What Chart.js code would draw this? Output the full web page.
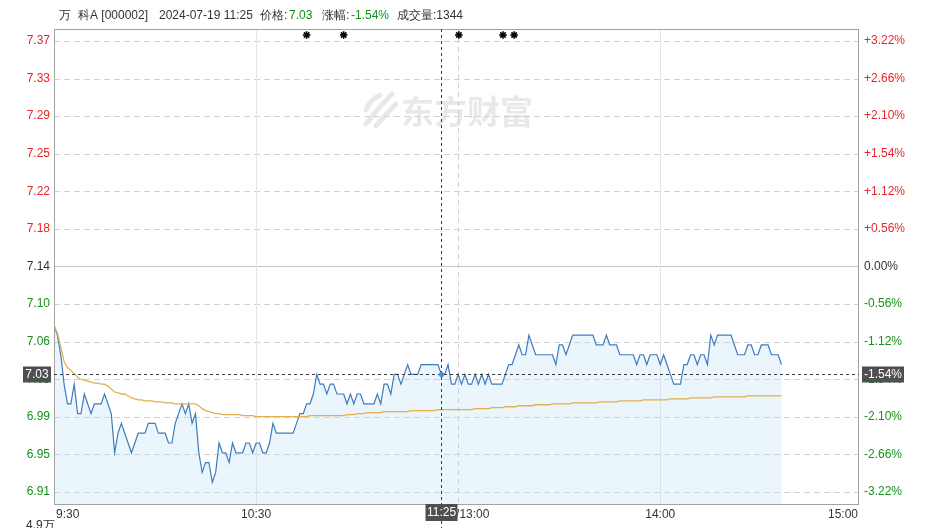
<!DOCTYPE html>
<html><head><meta charset="utf-8">
<script src="https://cdn.jsdelivr.net/npm/chart.js@4.4.1/dist/chart.umd.min.js"></script>
<style>html,body{margin:0;padding:0;background:#fff;overflow:hidden}canvas{display:block}</style>
</head><body>
<canvas id="c" width="936" height="528"></canvas>
<script>
// ---------- data ----------
const prevClose = 7.14;
const yMin = 6.91, yMax = 7.37;
const priceTickLabels = ['7.37','7.33','7.29','7.25','7.22','7.18','7.14','7.10','7.06','7.03','6.99','6.95','6.91'];
const pctTickLabels = ['+3.22%','+2.66%','+2.10%','+1.54%','+1.12%','+0.56%','0.00%','-0.56%','-1.12%','-1.54%','-2.10%','-2.66%','-3.22%'];
const timeTickValues = [0, 60, 120, 180, 239];
const timeTickLabels = ['9:30', '10:30', '11:30/13:00', '14:00', '15:00'];
const prices = [
 7.08,7.07,7.05,7.02,7.00,7.00,7.02,6.99,6.99,7.01,
 7.00,6.99,7.00,7.00,7.00,7.01,7.00,6.99,6.95,6.97,
 6.98,6.97,6.96,6.95,6.96,6.97,6.97,6.97,6.98,6.98,
 6.98,6.97,6.97,6.97,6.96,6.96,6.98,6.99,7.00,6.99,
 7.00,6.98,6.99,6.95,6.93,6.94,6.94,6.92,6.93,6.96,
 6.95,6.95,6.94,6.96,6.95,6.95,6.95,6.96,6.96,6.95,
 6.96,6.96,6.95,6.95,6.96,6.98,6.97,6.97,6.97,6.97,
 6.97,6.97,6.98,6.99,6.99,7.00,7.00,7.01,7.03,7.02,
 7.02,7.01,7.02,7.02,7.01,7.01,7.01,7.00,7.01,7.00,
 7.01,7.01,7.00,7.00,7.00,7.00,7.01,7.00,7.02,7.02,
 7.01,7.03,7.03,7.02,7.03,7.04,7.03,7.03,7.03,7.04,
 7.04,7.04,7.04,7.04,7.04,7.03,7.03,7.04,7.02,7.02,
 7.03,7.02,7.03,7.02,7.02,7.03,7.02,7.03,7.02,7.03,
 7.02,7.02,7.02,7.02,7.03,7.04,7.04,7.05,7.06,7.05,
 7.05,7.07,7.06,7.05,7.05,7.05,7.05,7.05,7.05,7.04,
 7.06,7.06,7.05,7.06,7.07,7.07,7.07,7.07,7.07,7.07,
 7.07,7.06,7.06,7.06,7.07,7.06,7.06,7.06,7.05,7.05,
 7.05,7.05,7.05,7.04,7.05,7.05,7.04,7.05,7.05,7.05,
 7.04,7.05,7.04,7.03,7.02,7.02,7.02,7.04,7.04,7.05,
 7.05,7.04,7.05,7.05,7.04,7.07,7.06,7.07,7.07,7.07,
 7.07,7.07,7.06,7.05,7.05,7.05,7.06,7.06,7.05,7.05,
 7.06,7.06,7.06,7.05,7.05,7.05,7.04
];
const avgPrices = [
 7.080,7.072,7.058,7.043,7.037,7.034,7.031,7.027,7.025,7.024,
 7.023,7.022,7.021,7.021,7.020,7.020,7.018,7.015,7.012,7.011,
 7.010,7.010,7.008,7.006,7.005,7.004,7.004,7.003,7.003,7.003,
 7.002,7.002,7.002,7.001,7.001,7.001,7.000,7.000,7.000,7.000,
 7.000,7.000,7.000,6.998,6.995,6.993,6.992,6.991,6.990,6.990,
 6.989,6.989,6.989,6.989,6.989,6.989,6.988,6.988,6.988,6.988,
 6.987,6.987,6.987,6.987,6.987,6.987,6.987,6.987,6.987,6.987,
 6.987,6.987,6.987,6.987,6.987,6.987,6.988,6.988,6.988,6.988,
 6.988,6.988,6.988,6.988,6.988,6.988,6.988,6.989,6.989,6.989,
 6.990,6.990,6.990,6.991,6.991,6.991,6.991,6.991,6.992,6.992,
 6.992,6.992,6.992,6.992,6.992,6.992,6.993,6.993,6.993,6.993,
 6.993,6.993,6.993,6.993,6.994,6.994,6.994,6.994,6.994,6.994,
 6.994,6.994,6.994,6.994,6.994,6.995,6.995,6.995,6.995,6.995,
 6.996,6.996,6.996,6.996,6.997,6.997,6.997,6.997,6.998,6.998,
 6.998,6.998,6.998,6.999,6.999,6.999,6.999,6.999,7.000,7.000,
 7.000,7.000,7.000,7.000,7.001,7.001,7.001,7.001,7.001,7.001,
 7.001,7.001,7.002,7.002,7.002,7.002,7.002,7.002,7.003,7.003,
 7.003,7.003,7.003,7.003,7.003,7.004,7.004,7.004,7.004,7.004,
 7.004,7.004,7.004,7.005,7.005,7.005,7.005,7.005,7.005,7.006,
 7.006,7.006,7.006,7.006,7.006,7.006,7.007,7.007,7.007,7.007,
 7.007,7.007,7.007,7.007,7.007,7.007,7.008,7.008,7.008,7.008,
 7.008,7.008,7.008,7.008,7.008,7.008,7.008
];
const newsMinutes = [75, 86, 120.2, 133.3, 136.6];
const cursorMinute = 115;
const cursorPrice = 7.03;
const cursorTime = '11:25';
const cursorPct = '-1.54%';
const headerName = '万 科A [000002]';
const headerDate = '2024-07-19 11:25';
const headerPrice = '7.03';
const headerChange = '-1.54%';
const headerVolume = '1344';
const volumeAxisTop = '4.9万';

// ---------- style ----------
const FONT = '"Liberation Sans", Arial, sans-serif';
const RED = '#e3262c', GREEN = '#17901a', GRAY = '#333';
const axisPad = 0.0122;   // empty band above the top tick and below the bottom tick
function tickColor(k) { return k < 6 ? RED : (k === 6 ? GRAY : GREEN); }
const tickValues = priceTickLabels.map((_, k) => yMax - k * (yMax - yMin) / (priceTickLabels.length - 1));

function line(ctx, x1, y1, x2, y2) { ctx.beginPath(); ctx.moveTo(x1, y1); ctx.lineTo(x2, y2); ctx.stroke(); }

const deco = {
  id: 'deco',
  beforeDraw(chart) {
    const { ctx, chartArea: a, scales: { x, y } } = chart;
    ctx.save();
    ctx.fillStyle = '#fff';
    ctx.fillRect(0, 0, chart.width, chart.height);
    // watermark
    ctx.fillStyle = 'rgba(0,0,0,0.09)';
    ctx.strokeStyle = 'rgba(0,0,0,0.09)';
    ctx.font = 'bold 33px "Noto Sans CJK SC", sans-serif';
    ctx.textBaseline = 'middle';
    ctx.textAlign = 'left';
    ctx.fillText('东方财富', 401, 111);
    ctx.lineWidth = 5; ctx.lineCap = 'round';
    ctx.beginPath(); ctx.moveTo(366, 124); ctx.quadraticCurveTo(378, 108, 392, 94); ctx.stroke();
    ctx.beginPath(); ctx.moveTo(376, 126); ctx.quadraticCurveTo(386, 114, 396, 104); ctx.stroke();
    ctx.beginPath(); ctx.moveTo(366, 110); ctx.quadraticCurveTo(370, 100, 380, 95); ctx.stroke();
    // horizontal grid
    ctx.lineWidth = 1; ctx.lineCap = 'butt';
    tickValues.forEach((v, k) => {
      const py = Math.round(y.getPixelForValue(v)) + 0.5;
      if (k === 6) { ctx.setLineDash([]); ctx.strokeStyle = '#c4c4c4'; }
      else { ctx.setLineDash([6, 4]); ctx.strokeStyle = '#d2d2d2'; }
      line(ctx, a.left, py, a.right, py);
    });
    // vertical grid
    timeTickValues.slice(1, -1).forEach(v => {
      const px = Math.round(x.getPixelForValue(v)) + 0.5;
      if (v === 120) { ctx.setLineDash([5, 4]); ctx.strokeStyle = '#cfcfcf'; }
      else { ctx.setLineDash([]); ctx.strokeStyle = '#e6e6e6'; }
      line(ctx, px, a.top, px, a.bottom);
    });
    ctx.restore();
  },
  afterDatasetsDraw(chart) {
    const { ctx, chartArea: a, scales: { x, y } } = chart;
    ctx.save();
    // frame
    ctx.strokeStyle = '#a3a3a3'; ctx.lineWidth = 1; ctx.setLineDash([]);
    ctx.strokeRect(a.left + 0.5, a.top + 0.5, a.right - a.left - 1, a.bottom - a.top);
    // news stars
    ctx.strokeStyle = '#000'; ctx.lineWidth = 1.6;
    newsMinutes.forEach(m => {
      const cx = x.getPixelForValue(m), cy = 35;
      for (let k = 0; k < 4; k++) {
        const ang = k * Math.PI / 4, r = 3.8;
        line(ctx, cx - r * Math.cos(ang), cy - r * Math.sin(ang), cx + r * Math.cos(ang), cy + r * Math.sin(ang));
      }
      ctx.fillStyle = '#000'; ctx.beginPath(); ctx.arc(cx, cy, 1.8, 0, Math.PI * 2); ctx.fill();
    });
    // crosshair
    const cx = Math.round(x.getPixelForValue(cursorMinute)) + 0.5;
    const cy = Math.round(y.getPixelForValue(cursorPrice)) + 0.5;
    ctx.strokeStyle = '#3a3a3a'; ctx.lineWidth = 1; ctx.setLineDash([3, 3]);
    line(ctx, cx, a.top, cx, chart.height);
    line(ctx, a.left, cy, a.right, cy);
    ctx.setLineDash([]);
    ctx.fillStyle = '#4a8fe0';
    ctx.beginPath(); ctx.arc(cx, cy, 2.6, 0, Math.PI * 2); ctx.fill();
    // boxes
    ctx.font = '12px ' + FONT; ctx.textBaseline = 'middle';
    ctx.fillStyle = '#4f4f4f';
    ctx.fillRect(23, cy - 8, 28, 16);
    ctx.fillRect(a.right + 3, cy - 8, 42, 16);
    ctx.fillStyle = '#fff'; ctx.textAlign = 'center';
    ctx.fillText(cursorPrice.toFixed(2), 37, cy);
    ctx.fillText(cursorPct, a.right + 24, cy);
    ctx.restore();
  },
  afterDraw(chart) {
    const { ctx, chartArea: a, scales: { x } } = chart;
    ctx.save();
    // header
    ctx.font = '12px ' + FONT; ctx.textBaseline = 'middle'; ctx.textAlign = 'left';
    ctx.fillStyle = GRAY;
    ctx.fillText('万', 59, 16);
    ctx.fillText(headerName.slice(2), 78, 16);
    ctx.fillText(headerDate, 159, 16);
    ctx.fillText('价格:', 260, 16);
    ctx.fillText('涨幅:', 322, 16);
    ctx.fillText('成交量:' + headerVolume, 397, 16);
    ctx.fillStyle = GREEN;
    ctx.fillText(headerPrice, 289, 16);
    ctx.fillText(headerChange, 351, 16);
    // x labels
    ctx.fillStyle = GRAY;
    const cx = x.getPixelForValue(cursorMinute);
    timeTickValues.forEach((v, k) => {
      const px = x.getPixelForValue(v);
      ctx.textAlign = k === 0 ? 'left' : (k === timeTickValues.length - 1 ? 'right' : 'center');
      ctx.fillText(timeTickLabels[k], k === 0 ? px + 2 : (k === timeTickValues.length - 1 ? px - 1 : px), a.bottom + 11);
    });
    // bottom cursor box on top of x labels
    ctx.fillStyle = '#4f4f4f';
    ctx.fillRect(Math.round(cx) - 15.5, a.bottom, 32, 17);
    ctx.fillStyle = '#fff'; ctx.textAlign = 'center';
    ctx.fillText(cursorTime, Math.round(cx) + 0.5, a.bottom + 9);
    // volume axis label (cut off)
    ctx.fillStyle = GRAY; ctx.textAlign = 'left'; ctx.textBaseline = 'top';
    ctx.fillText(volumeAxisTop, 26, 520);
    ctx.restore();
  }
};

new Chart(document.getElementById('c'), {
  type: 'line',
  data: {
    datasets: [
      { label: 'avg', data: avgPrices.map((v, i) => ({ x: i, y: v })), borderColor: '#e3b04c', borderWidth: 1.3,
        pointRadius: 0, fill: false, tension: 0 },
      { label: 'price', data: prices.map((v, i) => ({ x: i, y: v })), borderColor: '#3e7cbf', borderWidth: 1.2,
        pointRadius: 0, fill: 'start', backgroundColor: 'rgba(170,215,245,0.25)', tension: 0 }
    ]
  },
  options: {
    responsive: false, animation: false, devicePixelRatio: 1,
    layout: { padding: { top: 29, left: 0, right: 0, bottom: 0 } },
    plugins: { legend: { display: false }, tooltip: { enabled: false }, filler: { drawTime: 'beforeDatasetsDraw' } },
    scales: {
      x: { type: 'linear', min: timeTickValues[0], max: timeTickValues[timeTickValues.length - 1],
        ticks: { display: false }, grid: { display: false, drawTicks: false }, border: { display: false },
        afterFit: s => { s.height = 24; } },
      y: { position: 'left', min: yMin - axisPad, max: yMax + axisPad,
        afterBuildTicks: s => { s.ticks = tickValues.map(v => ({ value: v })); },
        afterFit: s => { s.width = 54; },
        grid: { display: false, drawTicks: false }, border: { display: false },
        ticks: { autoSkip: false, padding: 4, font: { family: FONT, size: 12 },
          color: c => tickColor(c.index), callback: (v, i) => priceTickLabels[i] } },
      y2: { position: 'right', min: yMin - axisPad, max: yMax + axisPad,
        afterBuildTicks: s => { s.ticks = tickValues.map(v => ({ value: v })); },
        afterFit: s => { s.width = 77; },
        grid: { display: false, drawTicks: false }, border: { display: false },
        ticks: { autoSkip: false, padding: 5, font: { family: FONT, size: 12 },
          color: c => tickColor(c.index), callback: (v, i) => pctTickLabels[i] } }
    }
  },
  plugins: [deco]
});
</script>
</body></html>
